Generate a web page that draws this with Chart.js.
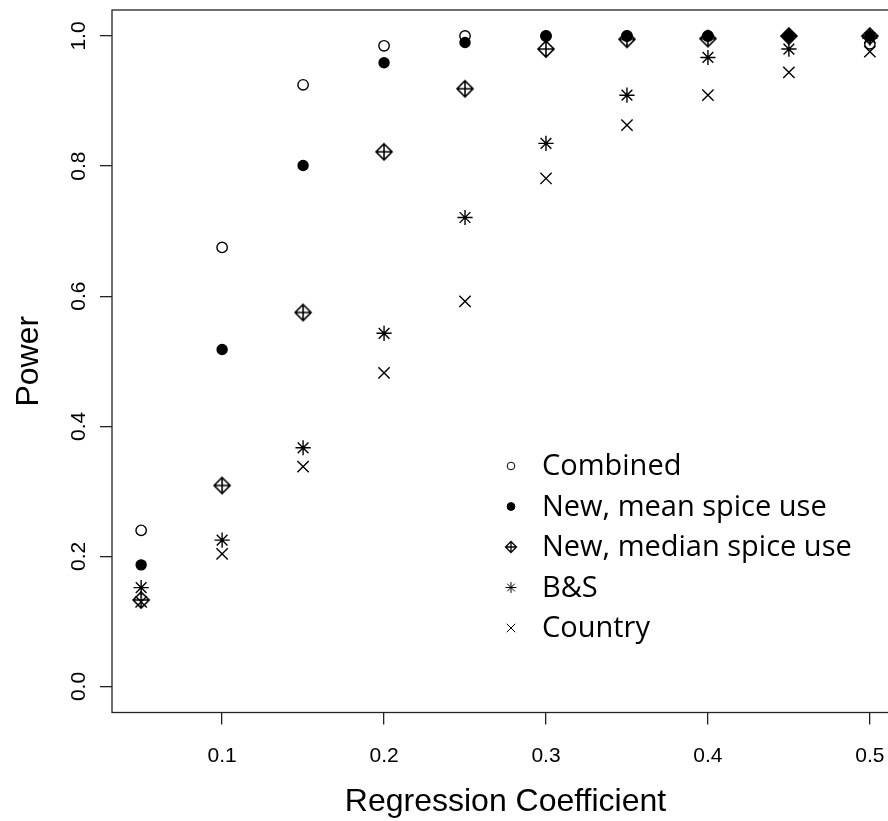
<!DOCTYPE html>
<html>
<head>
<meta charset="utf-8">
<title>Power by regression coefficient</title>
<script src="https://cdn.jsdelivr.net/npm/chart.js@4.4.1/dist/chart.umd.min.js"></script>
<style>
    html, body { margin: 0; padding: 0; background: #fff; overflow: hidden; }
    #wrap { width: 888px; height: 821px; }
</style>
</head>
<body>
<div id="wrap"><canvas id="power-chart" width="888" height="821"></canvas></div>
<script>
// Simulated power for each regression coefficient
const coefficients = [0.05, 0.10, 0.15, 0.20, 0.25, 0.30, 0.35, 0.40, 0.45, 0.50];
const combined     = [0.240, 0.675, 0.925, 0.985, 1.000, 1.000, 1.000, 1.000, 1.000, 0.988];
const newMean      = [0.187, 0.518, 0.801, 0.959, 0.990, 1.000, 1.000, 1.000, 1.000, 1.000];
const newMedian    = [0.133, 0.309, 0.575, 0.822, 0.919, 0.980, 0.995, 0.996, 1.000, 1.000];
const bAndS        = [0.152, 0.225, 0.367, 0.543, 0.721, 0.835, 0.909, 0.967, 0.980, 0.997];
const country      = [0.130, 0.204, 0.338, 0.482, 0.592, 0.781, 0.863, 0.909, 0.944, 0.976];

const seriesNames = ['Combined', 'New, mean spice use', 'New, median spice use', 'B&S', 'Country'];
const xTicks = [0.1, 0.2, 0.3, 0.4, 0.5];
const yTicks = [0.0, 0.2, 0.4, 0.6, 0.8, 1.0];

const INK = '#000';
const FRAME = '#222';

// Diamond with a plus inside (R's pch 9) as a small canvas
function diamondPlus(half, lw) {
    const size = Math.ceil(half * 2 + lw * 2 + 2);
    const c = document.createElement('canvas');
    c.width = size;
    c.height = size;
    const g = c.getContext('2d');
    const m = size / 2;
    g.strokeStyle = INK;
    g.lineWidth = lw;
    g.beginPath();
    g.moveTo(m, m - half);
    g.lineTo(m + half, m);
    g.lineTo(m, m + half);
    g.lineTo(m - half, m);
    g.closePath();
    g.moveTo(m, m - half);
    g.lineTo(m, m + half);
    g.moveTo(m - half, m);
    g.lineTo(m + half, m);
    g.stroke();
    return c;
}

// plot marks and their smaller legend versions
const marks = [
    { style: 'circle', radius: 5.2, fill: 'rgba(0,0,0,0)', legendRadius: 3.8 },
    { style: 'circle', radius: 5, fill: INK, legendRadius: 3.9 },
    { style: diamondPlus(8, 1.6), radius: 8, fill: 'rgba(0,0,0,0)', legendStyle: diamondPlus(5.5, 1.3), legendRadius: 5.5 },
    { style: 'star', radius: 7.6, fill: 'rgba(0,0,0,0)', legendRadius: 5.4 },
    { style: 'crossRot', radius: 8, fill: 'rgba(0,0,0,0)', legendRadius: 6 }
];

const seriesValues = [combined, newMean, newMedian, bAndS, country];

function toPoints(values) {
    return coefficients.map((x, i) => ({ x: x, y: values[i] }));
}

// Frame, tick labels, axis titles and legend
const framePlugin = {
    id: 'framePlugin',
    beforeDatasetsDraw(chart) {
        const { ctx, chartArea } = chart;
        ctx.save();
        ctx.strokeStyle = FRAME;
        ctx.lineWidth = 1.3;
        // right side of the box falls outside the picture
        ctx.strokeRect(chartArea.left, chartArea.top, chartArea.right + 20 - chartArea.left, chartArea.bottom - chartArea.top);
        ctx.restore();
    },
    afterDraw(chart) {
        const { ctx, chartArea, scales } = chart;
        const xs = scales.x;
        const ys = scales.y;
        ctx.save();
        ctx.fillStyle = INK;
        ctx.textAlign = 'center';
        ctx.textBaseline = 'alphabetic';

        ctx.font = '21px "Liberation Sans", Arial, sans-serif';
        xTicks.forEach(v => {
            ctx.fillText(v.toFixed(1), xs.getPixelForValue(v), chartArea.bottom + 49.5);
        });
        yTicks.forEach(v => {
            ctx.save();
            ctx.translate(chartArea.left - 27, ys.getPixelForValue(v));
            ctx.rotate(-Math.PI / 2);
            ctx.fillText(v.toFixed(1), 0, 0);
            ctx.restore();
        });

        ctx.font = '32px "Liberation Sans", Arial, sans-serif';
        ctx.fillText('Regression Coefficient', xs.getPixelForValue(0.275), chartArea.bottom + 98.5);
        ctx.save();
        ctx.translate(38, ys.getPixelForValue(0.5));
        ctx.rotate(-Math.PI / 2);
        ctx.fillText('Power', 0, 0);
        ctx.restore();

        // legend
        const symX = 511;
        const textX = 542;
        const rowTop = 466;
        const rowGap = 40.5;
        ctx.font = '29px "Open Sans", "Noto Sans", sans-serif';
        ctx.textAlign = 'left';
        ctx.textBaseline = 'middle';
        seriesNames.forEach((name, i) => {
            const cy = rowTop + i * rowGap;
            const mk = marks[i];
            ctx.strokeStyle = INK;
            ctx.fillStyle = mk.fill;
            Chart.helpers.drawPoint(ctx, {
                pointStyle: mk.legendStyle || mk.style,
                radius: mk.legendRadius,
                borderWidth: 1.3,
                rotation: 0
            }, symX, cy);
            ctx.fillStyle = INK;
            ctx.fillText(name, textX, cy + 1);
        });
        ctx.restore();
    }
};

document.addEventListener('DOMContentLoaded', function() {
    const ctx = document.getElementById('power-chart').getContext('2d');

    const datasets = seriesNames.map((name, i) => ({
        label: name,
        data: toPoints(seriesValues[i]),
        pointStyle: marks[i].style,
        pointRadius: marks[i].radius,
        pointBorderWidth: 1.4,
        pointBorderColor: INK,
        pointBackgroundColor: marks[i].fill,
        showLine: false,
        // later series are drawn on top, as in the original
        order: seriesNames.length - i
    }));

    window.powerChart = new Chart(ctx, {
        type: 'scatter',
        data: { datasets: datasets },
        options: {
            responsive: false,
            devicePixelRatio: 1,
            animation: false,
            events: [],
            layout: {
                autoPadding: false,
                padding: { left: 100, top: 10, right: 0, bottom: 96.5 }
            },
            plugins: {
                legend: { display: false },
                tooltip: { enabled: false }
            },
            scales: {
                x: {
                    type: 'linear',
                    min: 0.032,
                    max: 0.5112,
                    afterBuildTicks: axis => { axis.ticks = xTicks.map(v => ({ value: v })); },
                    ticks: { display: false },
                    grid: { drawOnChartArea: false, drawTicks: true, tickLength: 12, color: FRAME, lineWidth: 1.3 },
                    border: { display: false }
                },
                y: {
                    type: 'linear',
                    min: -0.04,
                    max: 1.04,
                    afterBuildTicks: axis => { axis.ticks = yTicks.map(v => ({ value: v })); },
                    ticks: { display: false },
                    grid: { drawOnChartArea: false, drawTicks: true, tickLength: 12, color: FRAME, lineWidth: 1.3 },
                    border: { display: false }
                }
            }
        },
        plugins: [framePlugin]
    });
});
</script>
</body>
</html>
